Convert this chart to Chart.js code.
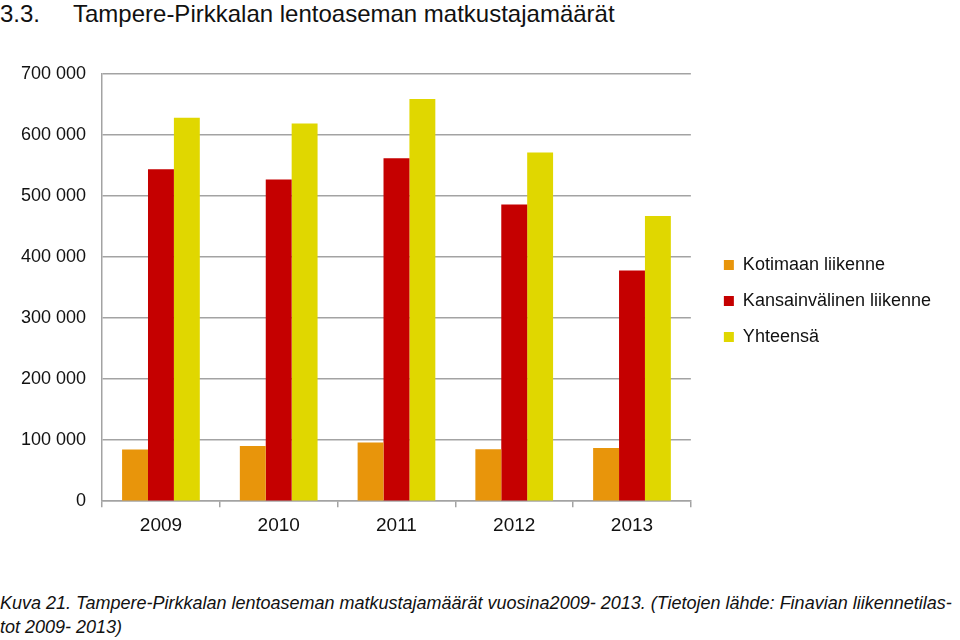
<!DOCTYPE html>
<html lang="fi">
<head>
<meta charset="UTF-8">
<title>Tampere-Pirkkalan lentoaseman matkustajamäärät</title>
<style>
  body { margin: 0; width: 960px; height: 640px; background: #fff; position: relative; overflow: hidden;
         font-family: "Liberation Sans", Arial, sans-serif; color: #111; }
  #heading { position: absolute; left: 0; top: 0; font-size: 24px; white-space: pre; }
  #heading .num { display: inline-block; width: 73px; }
  #wrap { position: absolute; left: 0; top: 47px; width: 960px; height: 497px; }
  #caption { position: absolute; left: 0; top: 591px; font-size: 18px; font-style: italic; line-height: 24px; white-space: pre; }
</style>
</head>
<body>
<div id="heading"><span class="num">3.3.</span>Tampere-Pirkkalan lentoaseman matkustajamäärät</div>
<div id="wrap"><canvas id="chart"></canvas></div>
<div id="caption">Kuva 21. Tampere-Pirkkalan lentoaseman matkustajamäärät vuosina2009- 2013. (Tietojen lähde: Finavian liikennetilas-
tot 2009- 2013)</div>
<script src="https://cdn.jsdelivr.net/npm/chart.js@4.4.1/dist/chart.umd.min.js"></script>
<script>
const years = ['2009', '2010', '2011', '2012', '2013'];
const kotimaan = [84600, 90600, 96000, 85000, 87300];
const kansainvalinen = [543500, 527000, 561500, 485800, 377800];
const yhteensa = [628000, 618700, 658600, 571300, 467300];
const yTicks = [0, 100000, 200000, 300000, 400000, 500000, 600000, 700000];

const fmt = v => v === 0 ? '0' : String(v).replace(/\B(?=(\d{3})+(?!\d))/g, ' ');
const gridCol = '#a3a3a3';
const font = '"Liberation Sans", Arial, sans-serif';

new Chart(document.getElementById('chart'), {
  type: 'bar',
  data: {
    labels: years,
    datasets: [
      { label: 'Kotimaan liikenne', data: kotimaan, backgroundColor: '#E8950B' },
      { label: 'Kansainvälinen liikenne', data: kansainvalinen, backgroundColor: '#C50000' },
      { label: 'Yhteensä', data: yhteensa, backgroundColor: '#E0D700' }
    ]
  },
  options: {
    responsive: true,
    maintainAspectRatio: false,
    animation: false,
    layout: { padding: { top: 11, left: 5, right: 19, bottom: 0 } },
    datasets: { bar: { categoryPercentage: 0.66, barPercentage: 1.0 } },
    plugins: {
      tooltip: { enabled: false },
      legend: {
        position: 'right',
        maxWidth: 260,
        labels: {
          boxWidth: 10, boxHeight: 10, padding: 18,
          color: '#111',
          font: { family: font, size: 18 }
        }
      }
    },
    scales: {
      x: {
        grid: { display: true, drawOnChartArea: false, drawTicks: true, offset: true, tickLength: 6, color: gridCol, lineWidth: 1.5 },
        border: { color: gridCol, width: 1.5 },
        ticks: { color: '#111', padding: 7, font: { family: font, size: 19 } }
      },
      y: {
        min: 0, max: 700000,
        afterBuildTicks: axis => { axis.ticks = yTicks.map(v => ({ value: v })); },
        grid: { color: gridCol, lineWidth: 1.5, drawTicks: false },
        border: { color: gridCol, width: 1.5 },
        ticks: { color: '#111', padding: 16, callback: v => fmt(v), font: { family: font, size: 18 } }
      },
      // empty spacer between the plot and the legend
      spacer: {
        position: 'right',
        grid: { display: false },
        border: { display: false },
        ticks: { display: false },
        afterFit: axis => { axis.width = 15; }
      }
    }
  }
});
</script>
</body>
</html>
